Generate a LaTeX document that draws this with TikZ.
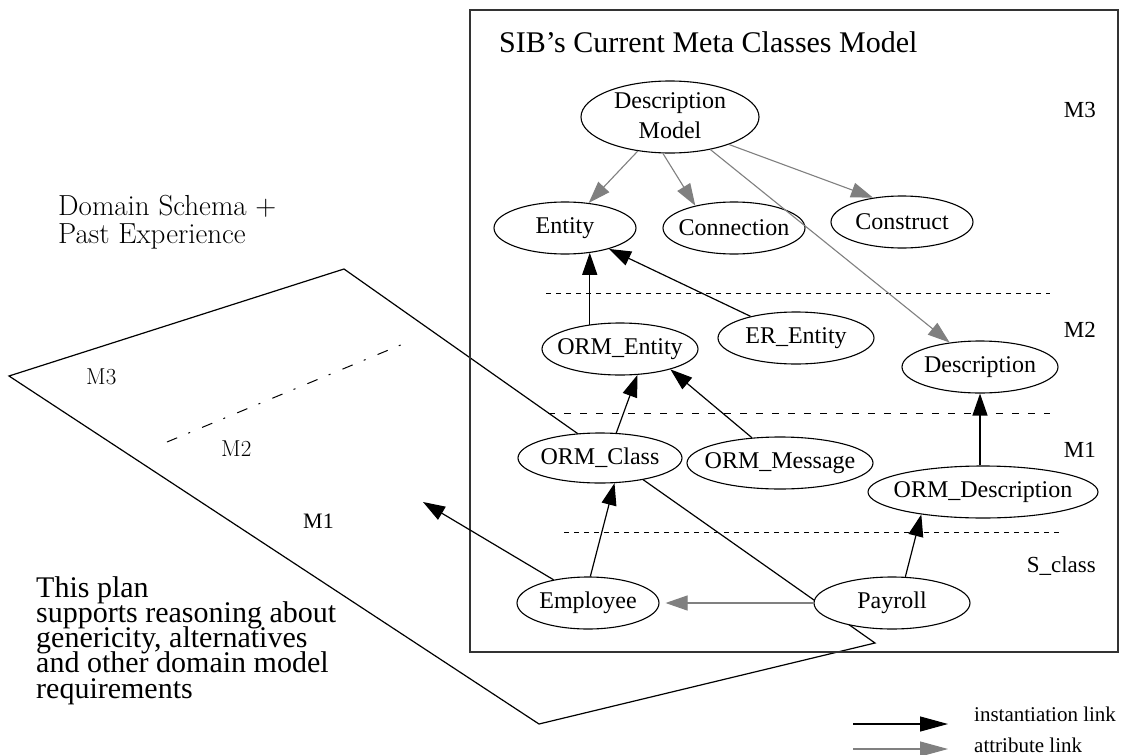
\documentclass[tikz,border=0pt]{standalone}
\usepackage{fontspec}
\newfontfamily\lib{Liberation Serif}
\newcommand\tightlines{\lineskiplimit=-100pt\relax}
\usetikzlibrary{arrows.meta,shapes.geometric,calc}
\begin{document}
\begin{tikzpicture}[x=1pt,y=-1pt,
  ell/.style={ellipse, draw, fill=white, line width=1.1pt, inner sep=0pt,
    font=\lib\fontsize{24}{30}\selectfont},
  inst/.style={draw=black, line width=1.2pt, -{Triangle[length=22pt,width=15pt]}},
  attr/.style={draw=gray, line width=1.1pt, -{Triangle[length=22pt,width=15pt]}, color=gray},
  lvl/.style={font=\lib\fontsize{23}{23}\selectfont, anchor=base east, inner sep=0pt},
  plbl/.style={font=\fontsize{23}{23}\selectfont, anchor=base west, inner sep=0pt},
  sepa/.style={line width=1pt, dash pattern=on 5pt off 5pt},
  sepb/.style={line width=1pt, dash pattern=on 7pt off 9pt},
  planeline/.style={line width=1.2pt, line join=miter},
]
\useasboundingbox (0,0) rectangle (1122,755);
\fill[white] (0,0) rectangle (1122,755);

% plane
\coordinate (pL) at (9,376);
\coordinate (pT) at (344,269);
\coordinate (pR) at (875,643);
\coordinate (pB) at (539,724);
\draw[planeline] (pL) -- (pT) -- (pR) -- (pB) -- cycle;
\draw[line width=1pt, dash pattern=on 11pt off 12pt on 2pt off 13pt] (167,442) -- (403,344);
\node[plbl] (pm3) at (86,384) {M3};
\node[plbl] (pm2) at (221,456) {M2};
\node[plbl, font=\lib\fontsize{22}{22}\selectfont] (pm1) at (303,528) {M1};

% box
\draw[line width=2pt, draw=black!80] (470,10) rectangle (1118,652);
\node[anchor=base west, inner sep=0pt, font=\lib\fontsize{30}{30}\selectfont] (title) at (499,52) {SIB’s Current Meta Classes Model};

% separators
\draw[sepa] (546,293) -- (1050,293);
\draw[sepb] (548,413) -- (1050,413);
\draw[sepa] (564,532) -- (1060,532);

% level labels
\node[lvl] (lm3) at (1096,117) {M3};
\node[lvl] (lm2) at (1096,337) {M2};
\node[lvl] (lm1) at (1096,457) {M1};
\node[lvl] (ls) at (1096,572) {S\_class};

% nodes
\node[ell, minimum width=178pt, minimum height=72pt, inner ysep=-8pt] (dm) at (670,117)
  {\makebox[0pt]{\begin{tabular}{@{}c@{}}Description\tabularnewline Model\end{tabular}}};
\node[ell, minimum width=142pt, minimum height=52pt] (ent) at (565,228) {\makebox[0pt]{Entity}};
\node[ell, minimum width=142pt, minimum height=52pt] (conn) at (734,228) {\makebox[0pt]{Connection}};
\node[ell, minimum width=142pt, minimum height=52pt] (cons) at (902,222) {\makebox[0pt]{Construct}};
\node[ell, minimum width=156pt, minimum height=52pt] (oe) at (620,349) {\makebox[0pt]{ORM\_Entity}};
\node[ell, minimum width=156pt, minimum height=52pt] (er) at (796,338) {\makebox[0pt]{ER\_Entity}};
\node[ell, minimum width=156pt, minimum height=52pt] (desc) at (980,367) {\makebox[0pt]{Description}};
\node[ell, minimum width=164pt, minimum height=50pt] (oc) at (600,458) {\makebox[0pt]{ORM\_Class}};
\node[ell, minimum width=186pt, minimum height=52pt] (om) at (780,463) {\makebox[0pt]{ORM\_Message}};
\node[ell, minimum width=230pt, minimum height=52pt] (od) at (983,492) {\makebox[0pt]{ORM\_Description}};
\node[ell, minimum width=142pt, minimum height=52pt] (emp) at (588,603) {\makebox[0pt]{Employee}};
\node[ell, minimum width=156pt, minimum height=52pt] (pay) at (892,603) {\makebox[0pt]{Payroll}};

% attribute links
\draw[attr] (dm) -- (ent);
\draw[attr] (dm.259) -- (conn.150);
\draw[attr] (dm.-25) -- (cons.140);
\draw[attr] (dm) -- (desc);
\draw[attr, shorten >=6pt] (pay) -- (emp);

% instantiation links
\draw[inst] (oe.141) -- (oe.141 |- ent.-44);
\draw[inst] (er) -- (ent);
\draw[inst] (oc.57) -- (oe.-56);
\draw[inst] (om.138) -- (oe.-22);
\draw[inst] (od.north -| desc.south) -- (desc.south);
\draw[inst] (emp.85) -- (oc.-60);
\draw[inst] (pay.63) -- (od.200);
\coordinate (ptip) at (423,502);
\draw[inst] (emp.146) -- (ptip);

% texts
\node[anchor=north west, inner sep=0pt, align=left, font=\fontsize{29}{28}\selectfont\tightlines] (dom) at (58,195)
  {Domain Schema +\\Past Experience};
\node[anchor=north west, inner sep=0pt, align=left, font=\lib\fontsize{30}{25.3}\selectfont\tightlines] (plan) at (36,576)
  {This plan\\supports reasoning about\\genericity, alternatives\\and other domain model\\requirements};

% legend
\coordinate (la1) at (853,724);
\coordinate (la2) at (948,724);
\coordinate (lb1) at (853,749);
\coordinate (lb2) at (948,749);
\draw[draw=black, line width=1.2pt, -{Triangle[length=28pt,width=15pt]}] (la1) -- (la2);
\draw[draw=gray, color=gray, line width=1.1pt, -{Triangle[length=28pt,width=15pt]}] (lb1) -- (lb2);
\node[anchor=base west, inner sep=0pt, font=\lib\fontsize{21}{21}\selectfont] (lt1) at (974,721) {instantiation link};
\node[anchor=base west, inner sep=0pt, font=\lib\fontsize{21}{21}\selectfont] (lt2) at (974,752) {attribute link};
\end{tikzpicture}
\end{document}
